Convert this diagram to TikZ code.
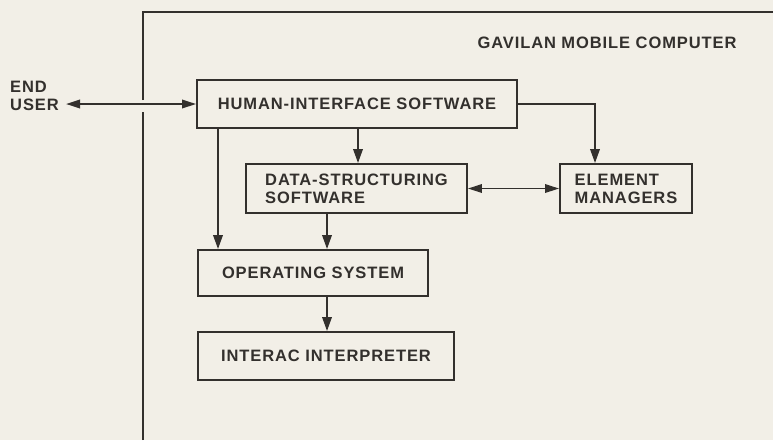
\documentclass[tikz,border=0pt]{standalone}
\usepackage{fontspec}
\setmainfont{Liberation Sans}[LetterSpace=5.5]
\usetikzlibrary{arrows.meta}
\definecolor{paper}{HTML}{F2EFE7}
\definecolor{ink}{HTML}{33302D}
\begin{document}
\begin{tikzpicture}[x=1pt,y=-1pt,
  every node/.style={font=\fontsize{16.5}{18}\selectfont\bfseries, text=ink},
  box/.style={draw=ink, line width=1.9pt, inner sep=0pt},
  conn/.style={draw=ink, line width=1.9pt, -{Triangle[length=14pt,width=9.5pt]}},
  biconn/.style={draw=ink, line width=1.9pt, {Triangle[length=14pt,width=8.5pt]}-{Triangle[length=14pt,width=8.5pt]}},
  frameline/.style={draw=ink, line width=2.3pt}]
\fill[paper] (0,0) rectangle (773,440);
\useasboundingbox (0,0) rectangle (773,440);
% outer frame
\draw[frameline] (143,440) -- (143,112);
\draw[frameline] (143,100) -- (143,12) -- (773,12);
\node (title) at (607,43) {GAVILAN MOBILE COMPUTER};
\node[anchor=west, align=left, inner sep=0pt] (eu) at (10,96) {END\\USER};
\coordinate (euend) at (66,106);
% boxes
\node[box, minimum width=320pt, minimum height=48pt] (hi) at (357,104) {HUMAN-INTERFACE SOFTWARE};
\node[box, minimum width=221pt, minimum height=49pt, align=left] (ds) at (356.5,188.5) {DATA-STRUCTURING\\SOFTWARE};
\node[box, minimum width=132pt, minimum height=49pt, align=left] (em) at (626,188.5) {ELEMENT\\MANAGERS};
\node[box, minimum width=230pt, minimum height=46pt] (os) at (313,273) {OPERATING SYSTEM};
\node[box, minimum width=256pt, minimum height=48pt] (ii) at (326,356) {INTERAC INTERPRETER};
% x positions of vertical connectors
\coordinate (c1) at (218,0);
\coordinate (c2) at (358,0);
\coordinate (c3) at (327,0);
\coordinate (c4) at (595,0);
% connectors
\draw[biconn] (euend |- hi.west) -- (hi.west);
\draw[conn] (hi.south -| c1) -- (os.north -| c1);
\draw[conn] (hi.south -| c2) -- (ds.north -| c2);
\draw[conn] (ds.south -| c3) -- (os.north -| c3);
\draw[conn] (os.south -| c3) -- (ii.north -| c3);
\draw[conn] (hi.east) -| (em.north -| c4);
\draw[biconn] (ds.east) -- (em.west);
\end{tikzpicture}
\end{document}
